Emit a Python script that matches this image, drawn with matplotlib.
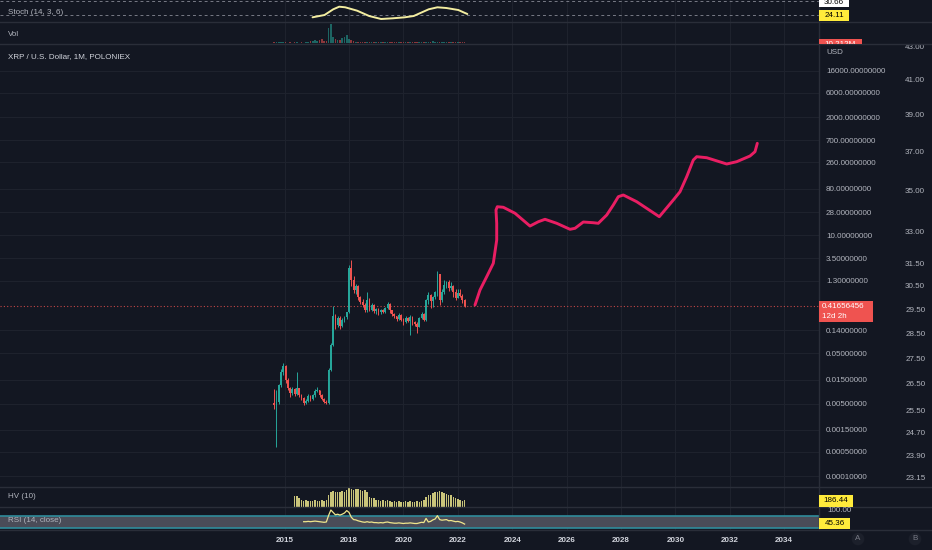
import numpy as np
import matplotlib
matplotlib.use('Agg')
import matplotlib.pyplot as plt
from matplotlib.lines import Line2D
from matplotlib.patches import Rectangle
from matplotlib.ticker import NullLocator, NullFormatter
from matplotlib.transforms import Bbox, TransformedBbox

W, H = 932, 550
plt.rcParams['font.family'] = ['Liberation Sans', 'DejaVu Sans']

# colores estilo TradingView oscuro
BG = '#131722'
GRID = '#1e222d'
TXT = '#b2b5be'
SEP = '#2a2e39'
UP = '#26a69a'
DOWN = '#ef5350'
PINK = '#e91e63'
YEL = '#ffeb3b'

# ---- datos (velas mensuales, primera = abr 2015) ----
first_month = 2015.25
first_open = 0.0052
closes = [0.0048, 0.0055, 0.0118, 0.0213, 0.0280, 0.0149, 0.0103, 0.0082, 0.0099, 0.0079,
          0.0103, 0.0075, 0.0066, 0.0052, 0.0057, 0.0072, 0.0063, 0.0075, 0.0090, 0.0094,
          0.0075, 0.0063, 0.0055, 0.0052, 0.0233, 0.0719, 0.264, 0.177, 0.242, 0.169,
          0.221, 0.253, 0.316, 2.28, 1.33, 0.850, 1.017, 0.621, 0.496, 0.433,
          0.346, 0.542, 0.346, 0.433, 0.331, 0.362, 0.316, 0.346, 0.316, 0.379,
          0.453, 0.346, 0.289, 0.264, 0.231, 0.277, 0.221, 0.202, 0.242, 0.211,
          0.253, 0.202, 0.185, 0.161, 0.242, 0.289, 0.221, 0.542, 0.679, 0.519,
          0.621, 0.776, 1.74, 0.542, 0.776, 1.063, 1.22, 0.929, 1.017, 0.776,
          0.593, 0.743, 0.649, 0.542, 0.4166]
highs = [0.0100, 0.0094, 0.0125, 0.0240, 0.0320, 0.0290, 0.0160, 0.0110, 0.0110, 0.0105,
         0.0213, 0.0105, 0.0080, 0.0068, 0.0062, 0.0078, 0.0075, 0.0080, 0.0098, 0.0110,
         0.0096, 0.0078, 0.0066, 0.0060, 0.0260, 0.0800, 0.420, 0.290, 0.260, 0.260,
         0.240, 0.270, 0.320, 2.60, 3.30, 1.60, 1.10, 1.05, 0.650, 0.570,
         0.480, 0.780, 0.600, 0.470, 0.460, 0.380, 0.380, 0.360, 0.360, 0.400,
         0.500, 0.470, 0.350, 0.300, 0.270, 0.300, 0.290, 0.240, 0.260, 0.250,
         0.280, 0.260, 0.215, 0.200, 0.250, 0.320, 0.300, 0.560, 0.780, 0.700,
         0.650, 0.800, 1.96, 1.75, 0.900, 1.35, 1.30, 1.35, 1.20, 1.08,
         0.880, 0.900, 0.880, 0.700, 0.560]
lows = [0.0040, 0.00064, 0.0050, 0.0110, 0.0190, 0.0130, 0.0095, 0.0070, 0.0075, 0.0072,
        0.0075, 0.0070, 0.0060, 0.0048, 0.0049, 0.0055, 0.0058, 0.0060, 0.0070, 0.0085,
        0.0070, 0.0060, 0.0052, 0.0050, 0.0050, 0.0220, 0.0700, 0.150, 0.160, 0.150,
        0.160, 0.200, 0.230, 0.300, 1.00, 0.750, 0.700, 0.550, 0.460, 0.400,
        0.320, 0.320, 0.330, 0.330, 0.300, 0.290, 0.280, 0.290, 0.300, 0.300,
        0.360, 0.300, 0.270, 0.240, 0.210, 0.220, 0.210, 0.180, 0.190, 0.200,
        0.113, 0.180, 0.170, 0.123, 0.160, 0.230, 0.210, 0.210, 0.450, 0.380,
        0.400, 0.560, 0.650, 0.430, 0.500, 0.700, 0.950, 0.800, 0.850, 0.620,
        0.550, 0.580, 0.620, 0.480, 0.400]
volumes = [6, 9, 7, 8, 10, 6, 5, 6, 5, 7, 6, 5, 6, 5, 6,
           14, 22, 18, 28, 20, 26, 45, 18, 24,
           150, 190, 60, 40, 30, 35, 50, 60, 80, 40, 30,
           20, 15, 12, 10, 9, 10, 12, 8, 9, 8, 7, 8, 7, 9, 10, 8, 7, 8, 7, 6,
           7, 8, 7, 6, 9, 7, 6, 8, 10, 9, 8, 14, 12, 10, 11, 16, 12, 10, 9, 10,
           11, 9, 8, 9, 10, 8, 9, 8, 9, 10]
last_price = 0.41656456

hv_start = 9
hv_values = [225, 225, 206, 186, 180, 182, 178, 180, 176, 182,
             180, 178, 183, 180, 185, 234, 263, 268, 263, 265,
             262, 272, 263, 282, 301, 296, 282, 292, 292, 282,
             272, 282, 263, 215, 206, 210, 186, 188, 180, 184,
             177, 186, 172, 170, 174, 168, 172, 170, 169, 173,
             170, 174, 171, 168, 172, 170, 175, 186, 215, 234,
             234, 253, 263, 263, 268, 263, 258, 244, 234, 234,
             215, 206, 196, 186, 177, 186]

rsi_start = 13
rsi_values = [51, 51, 52, 51, 52, 53, 52, 51, 50, 49,
              50, 72, 90, 82, 74, 76, 73, 76, 80, 88,
              82, 66, 58, 57, 54, 52, 50, 49, 51, 49,
              50, 48, 48, 47, 48, 47, 49, 50, 48, 47,
              46, 46, 47, 46, 45, 46, 46, 47, 46, 45,
              45, 47, 49, 48, 62, 50, 52, 57, 60, 71,
              58, 56, 57, 58, 54, 55, 53, 51, 52, 50,
              47, 43]

stoch_years = [2016.66, 2017.10, 2017.42, 2017.64, 2017.86, 2018.30, 2018.74, 2019.18, 2019.61,
               2020.05, 2020.38, 2020.60, 2020.93, 2021.25, 2021.58, 2022.02, 2022.24, 2022.35]
stoch_values = [11.3, 21.3, 46.1, 57.4, 54.8, 40.0, 17.0, 3.9, 7.0,
                11.3, 17.0, 28.7, 46.1, 54.8, 51.7, 43.0, 31.3, 25.7]

# linea rosa dibujada a mano (proyeccion)
proj_years = [2022.632, 2022.816, 2023.062, 2023.305, 2023.430, 2023.430, 2023.404, 2023.452,
              2023.673, 2024.103, 2024.654, 2024.960, 2025.206, 2025.636, 2026.125, 2026.309,
              2026.614, 2026.982, 2027.165, 2027.474, 2027.717, 2027.901, 2028.085, 2028.577,
              2029.408, 2029.923, 2030.169, 2030.415, 2030.658, 2030.783, 2031.151, 2031.886,
              2032.254, 2032.743, 2032.926, 2033.011]
proj_prices = [0.433, 0.850, 1.543, 2.816, 8.01, 16.96, 30.8, 35.7,
               34.8, 26.6, 15.0, 18.2, 20.3, 16.96, 12.95, 13.55,
               17.97, 17.4, 16.96, 24.6, 38.6, 56.0, 60.4, 44.7,
               22.8, 48.3, 70.0, 137.3, 290.6, 337.0, 322.0, 242.8,
               269.3, 347.8, 421.8, 614.9]

price_ticks = [16000, 6000, 2000, 700, 260, 80, 28, 10, 3.5, 1.3, 0.14, 0.05,
               0.015, 0.005, 0.0015, 0.0005, 0.0001]
right_ticks = [43, 41, 39, 37, 35, 33, 31.5, 30.5, 29.5, 28.5, 27.5, 26.5, 25.5,
               24.7, 23.9, 23.15]
year_ticks = [2015.63, 2018, 2020, 2022, 2024, 2026, 2028, 2030, 2032, 2034]
year_labels = ['2015', '2018', '2020', '2022', '2024', '2026', '2028', '2030', '2032', '2034']

XMIN, XMAX = 2005.169, 2035.279
FS = 5.8


def fpos(x, y):
    return x / W, 1 - y / H


def pane(top, bottom):
    a = fig.add_axes([0, 1 - bottom / H, 819 / W, (bottom - top) / H])
    a.set_facecolor(BG)
    for s in a.spines.values():
        s.set_visible(False)
    a.set_xlim(XMIN, XMAX)
    a.set_xticks(year_ticks)
    a.tick_params(axis='both', length=0, labelbottom=False, labelleft=False)
    a.grid(True, axis='x', color=GRID, lw=0.8)
    a.set_axisbelow(True)
    a.set_yticks([])
    return a


def box(x0, y0, x1, y1, fc):
    r = Rectangle(fpos(x0, y1), (x1 - x0) / W, (y1 - y0) / H, transform=fig.transFigure,
                  fc=fc, ec='none', zorder=5)
    fig.add_artist(r)
    return r


def ftext(x, y, s, color=TXT, ha='left', **kw):
    fx, fy = fpos(x, y)
    return fig.text(fx, fy, s, color=color, ha=ha, va='center', fontsize=FS, zorder=6, **kw)


fig = plt.figure(figsize=(W / 100, H / 100), dpi=100, facecolor=BG)

n = len(closes)
years = first_month + np.arange(n) / 12
c = np.array(closes)
o = np.array([first_open] + closes[:-1])
cols = np.where(c >= o, UP, DOWN)

# ---- panel principal (escala log de TradingView) ----
ax = pane(44, 487)


def fwd(p):
    return np.log10(np.clip(p, 0, None) + 1e-4)


def inv(v):
    return 10.0 ** v - 1e-4


ax.set_yscale('function', functions=(fwd, inv))
ax.set_ylim(inv(-3.911), inv(4.7245))
ax.set_yticks(price_ticks, labels=[f'{t:.8f}' for t in price_ticks])
ax.yaxis.set_minor_locator(NullLocator())
ax.grid(True, axis='y', color=GRID, lw=0.8)

ax.vlines(years, lows, highs, colors=cols, lw=0.7, zorder=3)
ax.bar(years, np.abs(c - o), bottom=np.minimum(o, c), width=0.062, color=cols,
       linewidth=0, zorder=4)
ax.axhline(last_price, color=DOWN, ls=(0, (1, 2)), lw=0.8, alpha=0.8, zorder=2)
ax.plot(proj_years, proj_prices, color=PINK, lw=2.1, solid_capstyle='round',
        solid_joinstyle='round', zorder=5)

# segunda escala a la derecha
ax2 = ax.twinx()
ax2.set_yscale('log')
ax2.set_ylim(22.85, 43.17)
ax2.set_yticks(right_ticks, labels=[f'{t:.2f}' for t in right_ticks])
ax2.yaxis.set_minor_locator(NullLocator())
ax2.yaxis.set_minor_formatter(NullFormatter())
ax2.tick_params(axis='y', length=0, pad=62, labelsize=FS, labelcolor=TXT)
for s in ax2.spines.values():
    s.set_visible(False)

# twinx manda las etiquetas a la izquierda: devolverlas a la derecha
ax.yaxis.tick_right()
ax.tick_params(axis='y', length=0, pad=5, labelsize=FS, labelcolor=TXT,
               labelright=True, labelleft=False)

# ---- Stoch ----
ax_s = pane(0, 22)
ax_s.set_ylim(-9.1, 86.5)
ax_s.axhline(80, color='#787b86', ls=(0, (3, 3)), lw=0.7)
ax_s.axhline(20, color='#787b86', ls=(0, (3, 3)), lw=0.7)
ax_s.plot(stoch_years, stoch_values, color='#f3eda0', lw=1.4, solid_capstyle='round')

# ---- Volumen ----
ax_v = pane(22, 44)
ax_v.set_ylim(-10, 210)
ax_v.bar(years, volumes, width=0.06, color=cols, alpha=0.55, linewidth=0)

# ---- HV ----
ax_h = pane(487, 507)
ax_h.set_ylim(119, 311)
hv_years = years[hv_start:hv_start + len(hv_values)]
ax_h.bar(hv_years, hv_values, width=0.055, color='#c9c47a', linewidth=0)

# ---- RSI ----
ax_r = pane(507, 530)
ax_r.set_ylim(23.3, 100)
ax_r.axhspan(30, 70, color='#4a4c58', lw=0)
ax_r.axhline(70, color='#2f8c9c', lw=1.2)
ax_r.axhline(30, color='#2f8c9c', lw=1.2)
rsi_years = years[rsi_start:rsi_start + len(rsi_values)]
ax_r.plot(rsi_years, rsi_values, color='#f0e68c', lw=0.9)
ax_r.set_xticks(year_ticks, labels=year_labels)
ax_r.tick_params(axis='x', length=0, pad=5, labelbottom=True, labelsize=FS, labelcolor='#d1d4dc')
for lbl in ax_r.get_xticklabels():
    lbl.set_fontweight('bold')

# separadores de paneles
for yy in [22, 44, 487, 507, 530]:
    fig.add_artist(Line2D([0, 1], [1 - yy / H] * 2, transform=fig.transFigure, color=SEP, lw=1))
fig.add_artist(Line2D([819 / W] * 2, [1 - 530 / H, 1], transform=fig.transFigure, color=SEP, lw=1))

# etiquetas de paneles
ftext(8, 12, 'Stoch (14, 3, 6)')
ftext(8, 34, 'Vol')
ftext(8, 57, 'XRP / U.S. Dollar, 1M, POLONIEX', color='#d1d4dc')
ftext(8, 497, 'HV (10)')
ftext(8, 521, 'RSI (14, close)')
ftext(826, 53, 'USD')

# cajas de valores a la derecha
box(819, -3, 849, 7, 'white')
ftext(834, 2, '30.66', color='black', ha='center')
box(819, 10, 849, 21, YEL)
ftext(834, 15.5, '24.11', color='black', ha='center')
box(819, 39, 862, 44, DOWN)
t = ftext(840, 44.5, '10.212M', color='white', ha='center')
t.set_clip_box(TransformedBbox(Bbox([[819 / W, 1 - 44 / H], [862 / W, 1 - 39 / H]]), fig.transFigure))
t.set_clip_on(True)
box(819, 301, 873, 322, DOWN)
ftext(822, 306.5, f'{last_price:.8f}', color='white')
ftext(822, 316, '12d 2h', color='white')
ftext(827, 510, '100.00')
box(819, 495, 853, 507, YEL)
ftext(836, 501, '186.44', color='black', ha='center')
box(819, 518, 850, 529, YEL)
ftext(834.5, 523.5, '45.36', color='black', ha='center')

for xx, s in [(858, 'A'), (915, 'B')]:
    fx, fy = fpos(xx, 539)
    fig.text(fx, fy, s, color='#787b86', ha='center', va='center', fontsize=FS,
             bbox=dict(boxstyle='circle,pad=0.35', fc='#1c202b', ec='none'))

fig.savefig('out.png', dpi=100, facecolor=BG)
